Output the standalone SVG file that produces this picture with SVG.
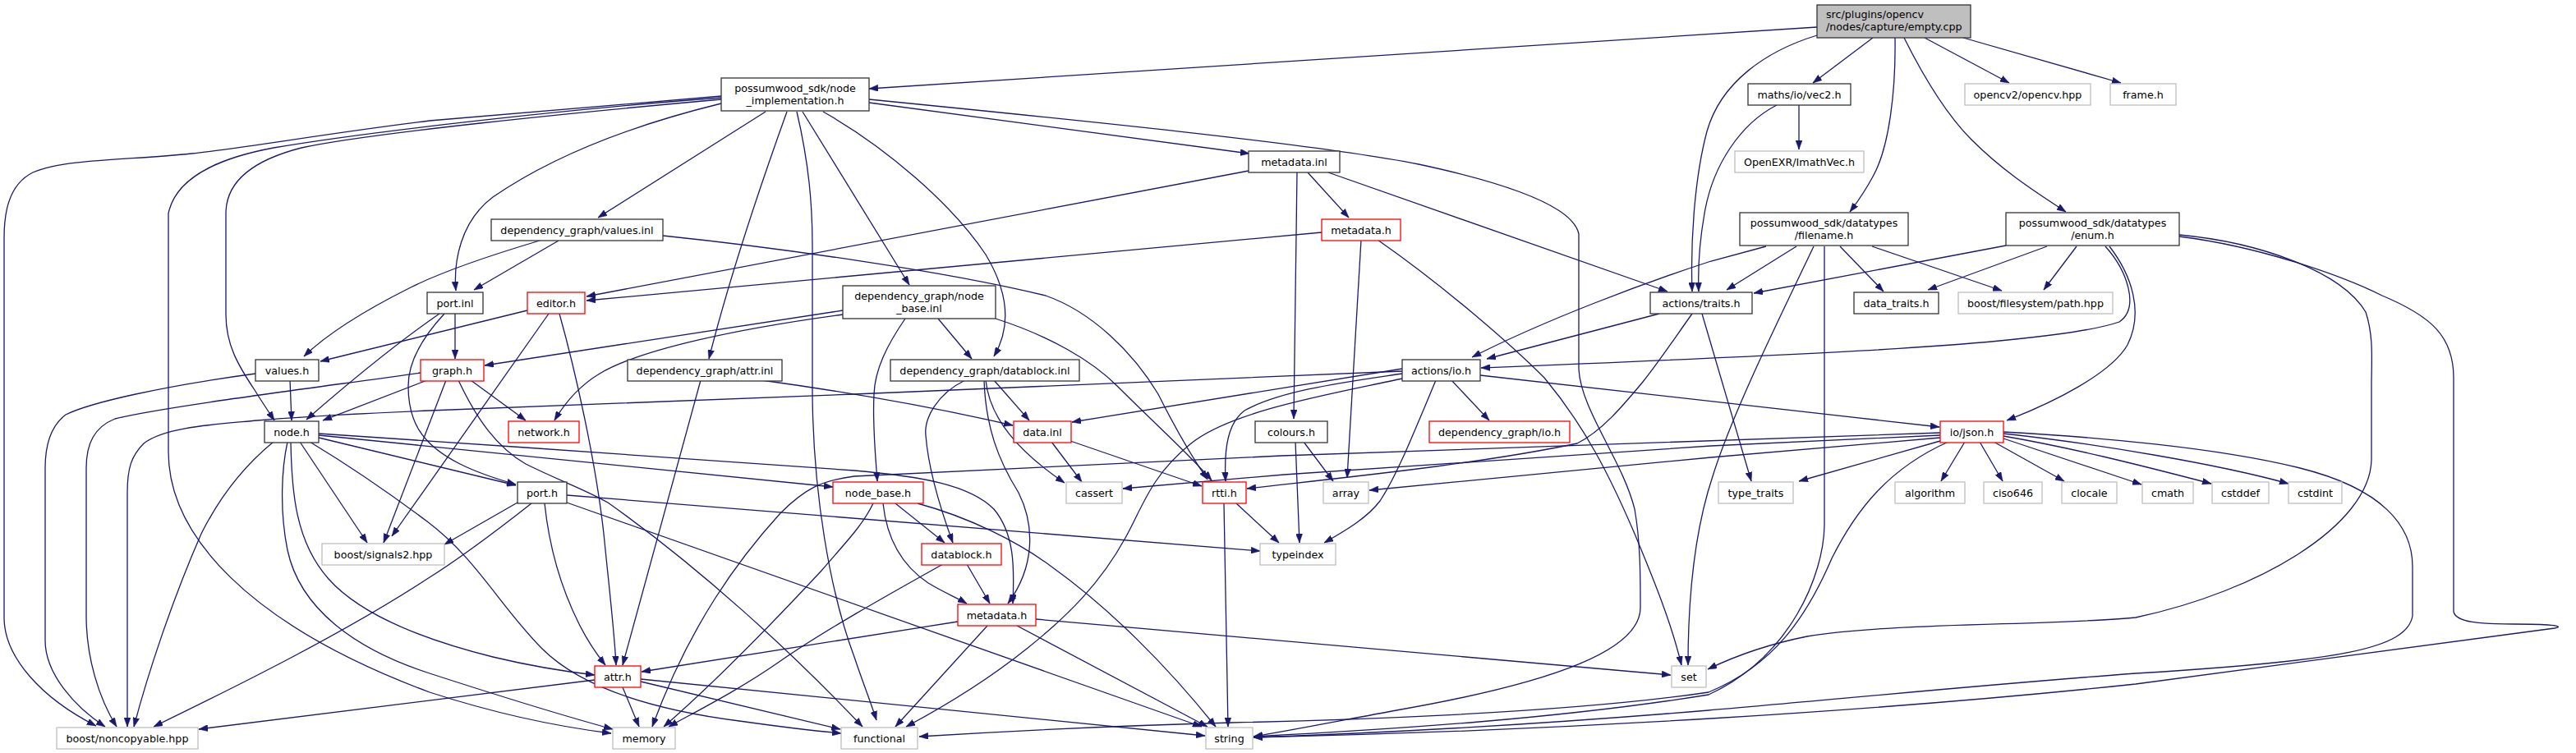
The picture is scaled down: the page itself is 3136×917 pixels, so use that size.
<svg xmlns="http://www.w3.org/2000/svg" width="3136" height="917" viewBox="0 0 3136 917">
<style>
rect{fill:#fff;stroke-width:1.3}
.n rect{stroke:#333}
.r rect{stroke:#ff0000}
.g rect{stroke:#bfbfbf}
.root rect{fill:#bfbfbf;stroke:#333}
text{font-family:"DejaVu Sans","Liberation Sans",sans-serif;font-size:12.7px;fill:#000;text-anchor:middle}
.e path{fill:none;stroke:#191970;stroke-width:1.3;marker-end:url(#a)}
</style>
<defs>
<marker id="a" viewBox="0 0 11 8" markerWidth="11" markerHeight="8" refX="11" refY="4" orient="auto" markerUnits="userSpaceOnUse"><path d="M0,0L11,4L0,8z" fill="#191970" stroke="#191970" stroke-width="0.5"/></marker>
</defs>
<rect x="0" y="0" width="3136" height="917" style="fill:#fff;stroke:none"/>
<g class="e" id="edges">
<path d="M2212,33L1058,108"/>
<path d="M2280,46L2207,101"/>
<path d="M2212,43C2150,62 2095,100 2078,160C2062,220 2058,300 2060,355"/>
<path d="M2163,128C2120,150 2085,200 2075,260C2068,300 2067,330 2068,355"/>
<path d="M2307,46C2308,110 2300,180 2280,215C2272,230 2262,245 2252,258"/>
<path d="M2318,46C2340,90 2370,140 2400,170C2440,210 2480,235 2515,258"/>
<path d="M2343,46L2446,101"/>
<path d="M2390,46L2582,101"/>
<path d="M878,117L523,147C400,162 300,180 233,187C160,195 80,193 40,210C10,225 5,260 5,290L5,752C5,800 50,850 117,884"/>
<path d="M878,119C700,132 450,160 333,180C280,190 215,210 205,260L205,550C205,650 300,760 523,843C600,868 680,885 744,893"/>
<path d="M878,121C700,137 450,162 367,180C320,192 275,215 275,260L275,383C275,420 290,445 310,475C318,488 326,500 334,512"/>
<path d="M878,126C780,150 680,185 600,240C560,270 552,320 555,354"/>
<path d="M932,136L728,265"/>
<path d="M958,136C935,200 890,330 863,437"/>
<path d="M970,136C985,200 989,250 989,300L989,480C990,600 1010,720 1040,800C1050,830 1060,855 1067,877"/>
<path d="M1058,125L1521,187"/>
<path d="M1058,121C1300,145 1600,175 1727,200C1830,222 1915,250 1922,285L1922,450C1925,500 1975,560 1990,620C1997,660 1997,700 1997,740C1997,790 1900,830 1700,865C1640,876 1580,888 1526,897"/>
<path d="M977,136L1107,347"/>
<path d="M1002,136C1080,180 1160,250 1200,310C1230,360 1230,400 1210,434"/>
<path d="M2372,538C2300,570 2260,620 2230,680C2200,750 2160,810 2080,843C1900,870 1600,878 1500,880C1350,884 1200,892 1119,897"/>
<path d="M2221,300L2221,640C2220,700 2180,800 2080,846C1900,875 1700,888 1526,897"/>
<path d="M2439,526C2550,532 2700,545 2800,570C2900,595 2937,640 2937,690L2937,750C2930,790 2850,805 2600,820C2400,835 2200,855 2080,865C1900,880 1700,892 1526,898"/>
<path d="M2653,288C2750,300 2850,335 2900,360C2960,385 2987,410 2987,460L2987,745C2990,758 3020,760 3060,760C3100,760 3125,762 3110,765L2600,833C2300,865 1900,890 1526,898"/>
<path d="M2653,286C2750,295 2850,330 2880,380C2890,410 2887,440 2887,470L2887,560C2885,640 2750,720 2600,752C2500,762 2300,758 2200,775C2150,785 2110,800 2079,815"/>
<path d="M2568,300C2595,335 2610,380 2590,420C2570,455 2500,490 2443,512"/>
<path d="M2563,300C2590,330 2605,375 2580,392C2500,420 2200,432 1803,448"/>
<path d="M2442,299L2135,357"/>
<path d="M2492,300L2347,353"/>
<path d="M2528,300L2488,353"/>
<path d="M2187,300L2102,353"/>
<path d="M2150,300L2083,318C2000,345 1880,390 1792,435"/>
<path d="M2240,300L2293,355"/>
<path d="M2279,300L2437,354"/>
<path d="M2208,300C2170,380 2110,500 2085,580C2065,640 2055,720 2055,810"/>
<path d="M2190,128L2190,182"/>
<path d="M1592,210L1642,265"/>
<path d="M1579,210L1575,510"/>
<path d="M1617,210L2030,355"/>
<path d="M1520,208L714,361"/>
<path d="M1609,283L714,366"/>
<path d="M1657,292L1640,582"/>
<path d="M1677,292C1760,350 1840,420 1880,460C1930,520 1960,580 1990,650C2015,710 2035,760 2047,810"/>
<path d="M680,293L577,353"/>
<path d="M657,293C600,310 540,330 500,350C450,375 400,405 370,434"/>
<path d="M807,287C950,302 1150,330 1273,360C1330,380 1380,430 1410,480C1430,520 1450,555 1470,584"/>
<path d="M554,381L554,437"/>
<path d="M535,382C480,420 420,470 373,511"/>
<path d="M541,382C515,410 497,440 497,470C497,510 510,540 560,565C580,575 600,582 628,590"/>
<path d="M642,378L390,440"/>
<path d="M668,382L477,653"/>
<path d="M681,382C700,450 725,560 735,650C742,720 748,770 750,810"/>
<path d="M1102,388C1080,420 1065,450 1064,480C1062,520 1066,555 1068,586"/>
<path d="M1142,388L1183,437"/>
<path d="M1026,378L590,445"/>
<path d="M1026,383C900,400 780,425 730,455C705,470 688,490 675,512"/>
<path d="M1212,388C1280,410 1330,440 1360,470C1410,520 1450,555 1475,585"/>
<path d="M1210,463L1253,512"/>
<path d="M1175,463C1140,480 1125,510 1127,530C1130,570 1145,620 1160,661"/>
<path d="M1198,463C1200,520 1215,560 1240,600C1260,640 1260,690 1227,735"/>
<path d="M1200,463C1205,510 1240,550 1296,588"/>
<path d="M1280,538L1317,587"/>
<path d="M1303,537L1463,592"/>
<path d="M853,463L758,810"/>
<path d="M927,463C1000,473 1120,492 1233,518"/>
<path d="M1090,613L1150,661"/>
<path d="M1075,613C1080,660 1100,690 1130,710C1150,722 1165,728 1177,735"/>
<path d="M1117,613C1180,630 1240,660 1280,690C1350,740 1420,810 1480,885"/>
<path d="M1063,613C1050,640 1030,660 1000,695C930,770 860,840 808,885"/>
<path d="M1177,687L1205,735"/>
<path d="M1148,687C1080,725 1000,770 950,805C900,840 850,865 814,885"/>
<path d="M1202,762L1090,885"/>
<path d="M1238,762L1470,885"/>
<path d="M1261,754L2034,822"/>
<path d="M1166,757L781,818"/>
<path d="M724,828L242,888"/>
<path d="M758,837L778,885"/>
<path d="M780,830L1023,888"/>
<path d="M780,827L1467,896"/>
<path d="M1490,613L1495,885"/>
<path d="M1505,613L1557,661"/>
<path d="M1587,538L1623,586"/>
<path d="M1577,538L1582,661"/>
<path d="M2020,382L1810,437"/>
<path d="M2060,382C2040,410 2020,440 2000,465C1975,495 1950,525 1920,540C1800,565 1650,580 1518,595"/>
<path d="M2072,382L2132,586"/>
<path d="M1767,463L1813,512"/>
<path d="M1748,463C1720,530 1700,580 1680,610C1665,630 1640,645 1612,661"/>
<path d="M1802,457L2361,520"/>
<path d="M1707,449L1305,514"/>
<path d="M1707,455C1640,465 1560,475 1515,500C1495,515 1490,545 1492,586"/>
<path d="M1707,461C1620,480 1500,500 1450,540C1400,580 1390,620 1370,655C1340,710 1300,750 1250,790C1200,830 1150,860 1103,885"/>
<path d="M1707,452L1040,480L523,500C450,503 360,508 313,512C260,517 200,520 175,540C160,555 155,570 155,600L155,885"/>
<path d="M2362,537L2190,586"/>
<path d="M2392,538L2363,586"/>
<path d="M2410,538L2438,586"/>
<path d="M2427,538L2513,586"/>
<path d="M2439,534L2607,590"/>
<path d="M2439,531C2520,545 2600,565 2692,589"/>
<path d="M2439,528C2550,540 2700,565 2786,589"/>
<path d="M2362,527L1560,555L1040,580C1000,585 980,595 950,625C900,680 840,760 794,885"/>
<path d="M2362,530L2083,543L1563,578L1367,595"/>
<path d="M2362,533L2083,557L1667,597"/>
<path d="M333,538C300,565 270,600 245,650C210,730 180,820 163,885"/>
<path d="M365,538L447,661"/>
<path d="M350,538C343,570 340,620 350,670C365,740 430,790 523,820C600,845 680,870 746,888"/>
<path d="M354,538C355,600 360,660 400,705C440,750 520,780 600,800C650,812 690,818 724,822"/>
<path d="M377,538C430,570 480,605 520,635C580,680 610,740 660,790C710,840 800,865 900,878C950,885 990,890 1024,893"/>
<path d="M388,533L628,591"/>
<path d="M388,530L1014,593"/>
<path d="M388,528C600,542 900,563 1040,573C1120,580 1180,590 1210,620C1235,650 1235,690 1233,735"/>
<path d="M520,463L393,512"/>
<path d="M573,463L640,512"/>
<path d="M543,463L467,661"/>
<path d="M558,463C580,510 605,545 640,565C680,585 710,595 740,612C850,690 960,790 1050,885"/>
<path d="M512,454C400,470 200,495 140,510C115,520 105,540 105,570L105,750C105,800 120,850 142,885"/>
<path d="M311,455C200,470 110,490 80,505C60,520 55,545 55,570L55,780C55,820 90,860 128,885"/>
<path d="M353,463L355,512"/>
<path d="M630,612L541,663"/>
<path d="M647,613C600,650 560,680 520,705C420,770 300,830 187,885"/>
<path d="M663,613C670,680 690,730 705,760C715,780 725,795 737,810"/>
<path d="M690,603L1534,671"/>
<path d="M690,612L1463,885"/>
</g>
<g id="n_empty" class="root"><rect x="2212" y="6" width="187" height="40"/><text x="2223" y="22" style="text-anchor:start">src/plugins/opencv</text><text x="2223" y="37" style="text-anchor:start">/nodes/capture/empty.cpp</text></g>
<g id="n_nimpl" class="n"><rect x="878" y="95" width="180" height="40"/><text x="968" y="111.5">possumwood_sdk/node</text><text x="968" y="126.5">_implementation.h</text></g>
<g id="n_vec2" class="n"><rect x="2128" y="102" width="125" height="26"/><text x="2190.5" y="119.5">maths/io/vec2.h</text></g>
<g id="n_opencv" class="g"><rect x="2392" y="102" width="153" height="26"/><text x="2468.5" y="119.5">opencv2/opencv.hpp</text></g>
<g id="n_frame" class="g"><rect x="2569" y="102" width="80" height="26"/><text x="2609" y="119.5">frame.h</text></g>
<g id="n_openexr" class="g"><rect x="2112" y="184" width="157" height="26"/><text x="2190.5" y="201.5">OpenEXR/ImathVec.h</text></g>
<g id="n_metainl" class="n"><rect x="1520" y="184" width="111" height="26"/><text x="1575.5" y="201.5">metadata.inl</text></g>
<g id="n_valuesinl" class="n"><rect x="598" y="267" width="209" height="26"/><text x="702.5" y="284.5">dependency_graph/values.inl</text></g>
<g id="n_metah1" class="r"><rect x="1609" y="267" width="96" height="26"/><text x="1657" y="284.5">metadata.h</text></g>
<g id="n_filename" class="n"><rect x="2118" y="259" width="205" height="40"/><text x="2220.5" y="275.5">possumwood_sdk/datatypes</text><text x="2220.5" y="290.5">/filename.h</text></g>
<g id="n_enum" class="n"><rect x="2442" y="259" width="211" height="40"/><text x="2547.5" y="275.5">possumwood_sdk/datatypes</text><text x="2547.5" y="290.5">/enum.h</text></g>
<g id="n_portinl" class="n"><rect x="520" y="356" width="68" height="26"/><text x="554" y="373.5">port.inl</text></g>
<g id="n_editor" class="r"><rect x="642" y="356" width="70" height="26"/><text x="677" y="373.5">editor.h</text></g>
<g id="n_nbinl" class="n"><rect x="1026" y="348" width="186" height="40"/><text x="1119" y="364.5">dependency_graph/node</text><text x="1119" y="379.5">_base.inl</text></g>
<g id="n_traits" class="n"><rect x="2009" y="356" width="124" height="26"/><text x="2071" y="373.5">actions/traits.h</text></g>
<g id="n_datatraits" class="n"><rect x="2257" y="356" width="103" height="26"/><text x="2308.5" y="373.5">data_traits.h</text></g>
<g id="n_path" class="g"><rect x="2384" y="356" width="188" height="26"/><text x="2478" y="373.5">boost/filesystem/path.hpp</text></g>
<g id="n_valuesh" class="n"><rect x="311" y="438" width="77" height="26"/><text x="349.5" y="455.5">values.h</text></g>
<g id="n_graph" class="r"><rect x="512" y="438" width="77" height="26"/><text x="550.5" y="455.5">graph.h</text></g>
<g id="n_attrinl" class="n"><rect x="764" y="438" width="188" height="26"/><text x="858" y="455.5">dependency_graph/attr.inl</text></g>
<g id="n_dbinl" class="n"><rect x="1084" y="438" width="230" height="26"/><text x="1199" y="455.5">dependency_graph/datablock.inl</text></g>
<g id="n_io" class="n"><rect x="1707" y="438" width="95" height="26"/><text x="1754.5" y="455.5">actions/io.h</text></g>
<g id="n_node" class="n"><rect x="322" y="513" width="66" height="26"/><text x="355" y="530.5">node.h</text></g>
<g id="n_network" class="r"><rect x="619" y="513" width="86" height="26"/><text x="662" y="530.5">network.h</text></g>
<g id="n_datainl" class="r"><rect x="1234" y="513" width="70" height="26"/><text x="1269" y="530.5">data.inl</text></g>
<g id="n_colours" class="n"><rect x="1528" y="513" width="88" height="26"/><text x="1572" y="530.5">colours.h</text></g>
<g id="n_dgio" class="r"><rect x="1740" y="513" width="171" height="26"/><text x="1825.5" y="530.5">dependency_graph/io.h</text></g>
<g id="n_json" class="r"><rect x="2362" y="513" width="77" height="26"/><text x="2400.5" y="530.5">io/json.h</text></g>
<g id="n_port" class="n"><rect x="630" y="587" width="60" height="26"/><text x="660" y="604.5">port.h</text></g>
<g id="n_nbh" class="r"><rect x="1014" y="587" width="110" height="26"/><text x="1069" y="604.5">node_base.h</text></g>
<g id="n_cassert" class="g"><rect x="1298" y="587" width="68" height="26"/><text x="1332" y="604.5">cassert</text></g>
<g id="n_rtti" class="r"><rect x="1464" y="587" width="53" height="26"/><text x="1490.5" y="604.5">rtti.h</text></g>
<g id="n_array" class="g"><rect x="1611" y="587" width="55" height="26"/><text x="1638.5" y="604.5">array</text></g>
<g id="n_typetraits" class="g"><rect x="2092" y="587" width="91" height="26"/><text x="2137.5" y="604.5">type_traits</text></g>
<g id="n_algorithm" class="g"><rect x="2307" y="587" width="85" height="26"/><text x="2349.5" y="604.5">algorithm</text></g>
<g id="n_ciso646" class="g"><rect x="2415" y="587" width="71" height="26"/><text x="2450.5" y="604.5">ciso646</text></g>
<g id="n_clocale" class="g"><rect x="2510" y="587" width="67" height="26"/><text x="2543.5" y="604.5">clocale</text></g>
<g id="n_cmath" class="g"><rect x="2608" y="587" width="62" height="26"/><text x="2639" y="604.5">cmath</text></g>
<g id="n_cstddef" class="g"><rect x="2693" y="587" width="69" height="26"/><text x="2727.5" y="604.5">cstddef</text></g>
<g id="n_cstdint" class="g"><rect x="2786" y="587" width="65" height="26"/><text x="2818.5" y="604.5">cstdint</text></g>
<g id="n_signals2" class="g"><rect x="392" y="662" width="149" height="26"/><text x="466.5" y="679.5">boost/signals2.hpp</text></g>
<g id="n_datablockh" class="r"><rect x="1122" y="662" width="97" height="26"/><text x="1170.5" y="679.5">datablock.h</text></g>
<g id="n_typeindex" class="g"><rect x="1534" y="662" width="92" height="26"/><text x="1580" y="679.5">typeindex</text></g>
<g id="n_metah2" class="r"><rect x="1166" y="736" width="95" height="26"/><text x="1213.5" y="753.5">metadata.h</text></g>
<g id="n_attrh" class="r"><rect x="724" y="811" width="56" height="26"/><text x="752" y="828.5">attr.h</text></g>
<g id="n_set" class="g"><rect x="2035" y="811" width="42" height="26"/><text x="2056" y="828.5">set</text></g>
<g id="n_noncopy" class="g"><rect x="69" y="886" width="172" height="26"/><text x="155" y="903.5">boost/noncopyable.hpp</text></g>
<g id="n_memory" class="g"><rect x="746" y="886" width="76" height="26"/><text x="784" y="903.5">memory</text></g>
<g id="n_functional" class="g"><rect x="1024" y="886" width="93" height="26"/><text x="1070.5" y="903.5">functional</text></g>
<g id="n_string" class="g"><rect x="1468" y="886" width="57" height="26"/><text x="1496.5" y="903.5">string</text></g>
</svg>
